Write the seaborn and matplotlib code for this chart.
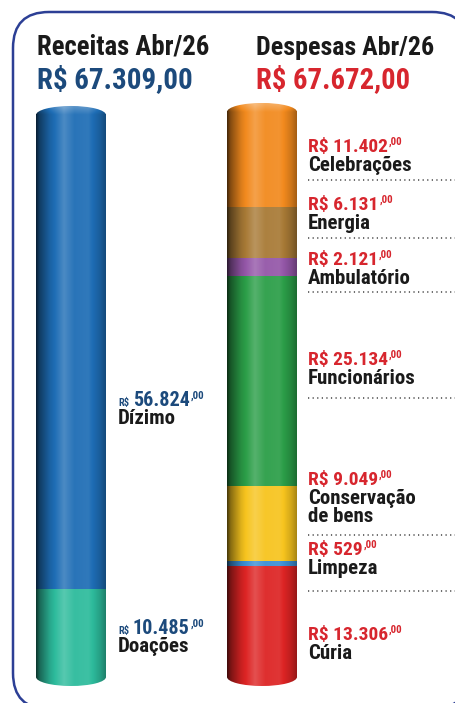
import seaborn as sns
import matplotlib.pyplot as plt
import numpy as np
import pandas as pd
from matplotlib.patches import Ellipse, FancyBboxPatch
from matplotlib.colors import to_rgb

# Dados de abril/26 (segmentos listados de baixo para cima)
lados = ["Receitas", "Despesas"]
titulos = ["Receitas Abr/26", "Despesas Abr/26"]

receitas_cat = ["Doações", "Dízimo"]
receitas_val = [10485, 56824]
receitas_cor = ["#2dbb9c", "#1e6db5"]

despesas_cat = ["Cúria", "Limpeza", "Conservação\nde bens", "Funcionários",
                "Ambulatório", "Energia", "Celebrações"]
despesas_val = [13306, 529, 9049, 25134, 2121, 6131, 11402]
despesas_cor = ["#dd2424", "#3b8fd4", "#f7c41e", "#2b9e48",
                "#9457a8", "#a87a36", "#f28a1e"]

# Tabela para o seaborn
linhas = []
for lado, cats, vals, cores in [("Receitas", receitas_cat, receitas_val, receitas_cor),
                                ("Despesas", despesas_cat, despesas_val, despesas_cor)]:
    base = 0
    for c, v, cor in zip(cats, vals, cores):
        linhas.append(dict(lado=lado, categoria=c, valor=v, base=base, cor=cor))
        base += v
df = pd.DataFrame(linhas)


def fmt(v):
    return f"{v:,}".replace(",", ".")


sns.set_style("white")
plt.rcParams['font.family'] = ['Roboto Condensed', 'Liberation Sans Narrow',
                               'DejaVu Sans Condensed', 'Roboto', 'DejaVu Sans']

W, H = 456, 703
fig = plt.figure(figsize=(W / 100, H / 100), dpi=100)

# Moldura arredondada (coordenadas em pixels)
ax_bg = fig.add_axes([0, 0, 1, 1])
ax_bg.set_xlim(0, W)
ax_bg.set_ylim(H, 0)
ax_bg.axis('off')
ax_bg.add_patch(FancyBboxPatch((13, 12), 455, 697, boxstyle="round,pad=0,rounding_size=36",
                               fc='white', ec='#2c3f95', lw=1.8))

# Colunas empilhadas
ax = fig.add_axes([0, 0, 1, 1])
ax.patch.set_alpha(0)
largura = 70 / 191
barras = []
for i, r in df.iterrows():
    antes = len(ax.patches)
    sns.barplot(data=df.iloc[[i]], x="lado", y="valor", order=lados, bottom=r.base,
                color=r.cor, width=largura, saturation=1, errorbar=None,
                linewidth=0, ax=ax)
    novos = [p for p in ax.patches[antes:] if p.get_height() > 0]
    barras.append(novos[0])

k = 0.00835  # px por real
ax.set_xlim(-71 / 191, 385 / 191)
ax.set_ylim(-26 / k, 677 / k)
ax.axis('off')

# Sombreado cilindrico
perfil_t = [0, 0.05, 0.2, 0.4, 0.55, 0.75, 0.92, 1]
perfil_f = [0.28, 0.55, 0.9, 1.2, 1.05, 1.08, 0.85, 0.68]


def sombra(cor, linhas=1, extra=None):
    t = np.linspace(0, 1, 200)
    f = np.tile(np.interp(t, perfil_t, perfil_f), (linhas, 1))
    if extra is not None:
        f = f + extra[:, None]
    c = np.array(to_rgb(cor))
    f = f[..., None]
    out = np.where(f <= 1, c * f, c + (1 - c) * (f - 1))
    return np.clip(out, 0, 1)


for p, cor in zip(barras, df.cor):
    x0, y0, w, h = p.get_x(), p.get_y(), p.get_width(), p.get_height()
    ax.imshow(sombra(cor, 2), extent=[x0, x0 + w, y0, y0 + h], aspect='auto',
              interpolation='bilinear', zorder=3)

alt_tampa = 2 * 9 / k
for lado in lados:
    seg = [(p, c) for p, c, l in zip(barras, df.cor, df.lado) if l == lado]
    # base
    p, cor = seg[0]
    x0, w = p.get_x(), p.get_width()
    e = Ellipse((x0 + w / 2, p.get_y()), w, alt_tampa, fc='none', ec='none')
    ax.add_patch(e)
    im = ax.imshow(sombra(cor, 2), extent=[x0, x0 + w, p.get_y() - alt_tampa / 2, p.get_y() + alt_tampa / 2],
                   aspect='auto', interpolation='bilinear', zorder=2.5)
    im.set_clip_path(e)
    # topo
    p, cor = seg[-1]
    yt = p.get_y() + p.get_height()
    e = Ellipse((x0 + w / 2, yt), w, alt_tampa, fc='none', ec='none')
    ax.add_patch(e)
    s = np.linspace(0, 1, 40)
    extra = np.clip(0.5 - s, 0, None) * 0.5
    im = ax.imshow(sombra(cor, 40, extra), extent=[x0, x0 + w, yt - alt_tampa / 2, yt + alt_tampa / 2],
                   aspect='auto', interpolation='bilinear', zorder=4)
    im.set_clip_path(e)

# Textos (coordenadas em pixels)
ax_t = fig.add_axes([0, 0, 1, 1])
ax_t.set_xlim(0, W)
ax_t.set_ylim(H, 0)
ax_t.axis('off')
fig.canvas.draw()
rend = fig.canvas.get_renderer()
inv = ax_t.transData.inverted()


def caixa(t):
    bb = t.get_window_extent(rend)
    (xa, _), (xb, _) = inv.transform([(bb.x0, bb.y0), (bb.x1, bb.y1)])
    return xa, xb


def fim_x(t):
    return caixa(t)[1]


def tamanho(texto, larg_px, base=14):
    t = ax_t.text(0, 0, texto, fontsize=base, fontweight='bold')
    xa, xb = caixa(t)
    t.remove()
    return base * larg_px / (xb - xa)


azul_esc = '#1c4a7c'
vermelho = '#d7262e'
preto = '#1a1a1a'

tit_x = [37, 256]
tit_larg = [173, 179]
tot_larg = [156, 154]
for x, tit, vals, cor, lt, lv in zip(tit_x, titulos, [receitas_val, despesas_val],
                                     [azul_esc, vermelho], tit_larg, tot_larg):
    ax_t.text(x, 55, tit, fontsize=tamanho(tit, lt), fontweight='bold', color=preto)
    tot = f"R$ {fmt(sum(vals))},00"
    ax_t.text(x, 88, tot, fontsize=tamanho(tot, lv), fontweight='bold', color=cor)

tam_val = tamanho("R$ 11.402", 80)
tam_nome = tamanho("Celebrações", 104)
tam_val_esq = tamanho("56.824", 57)
tam_rs = tamanho("R$", 11)
tam_sup = tam_val * 0.56


def rotulo(x, y, valor, nome, cor, rs_pequeno=False, dy=19):
    if rs_pequeno:
        t0 = ax_t.text(x, y, "R$", fontsize=tam_rs, fontweight='bold', color=cor)
        t = ax_t.text(fim_x(t0) + 4, y, fmt(valor), fontsize=tam_val_esq, fontweight='bold', color=cor)
    else:
        t = ax_t.text(x, y, f"R$ {fmt(valor)}", fontsize=tam_val, fontweight='bold', color=cor)
    ax_t.text(fim_x(t) + 1, y - 7, ",00", fontsize=tam_sup, fontweight='bold', color=cor)
    for j, parte in enumerate(nome.split("\n")):
        ax_t.text(x, y + dy + 18 * j, parte, fontsize=tam_nome, fontweight='bold', color=preto)


# receitas
rec_y = [634, 406]
for y, v, c in zip(rec_y, receitas_val, receitas_cat):
    rotulo(118, y, v, c, azul_esc, rs_pequeno=True, dy=18)

# despesas
desp_y = [640, 555, 485, 365, 265, 210, 152]
pont_y = [None, 591, 535, 398, 292, 238, 180]
for y, yp, v, c in zip(desp_y, pont_y, despesas_val, despesas_cat):
    rotulo(308, y, v, c, vermelho)
    if yp is not None:
        ax_t.plot([308, W], [yp, yp], color='#444444', lw=1.1, ls=(0, (0.8, 2.2)))

fig.savefig("out.png", dpi=100)
